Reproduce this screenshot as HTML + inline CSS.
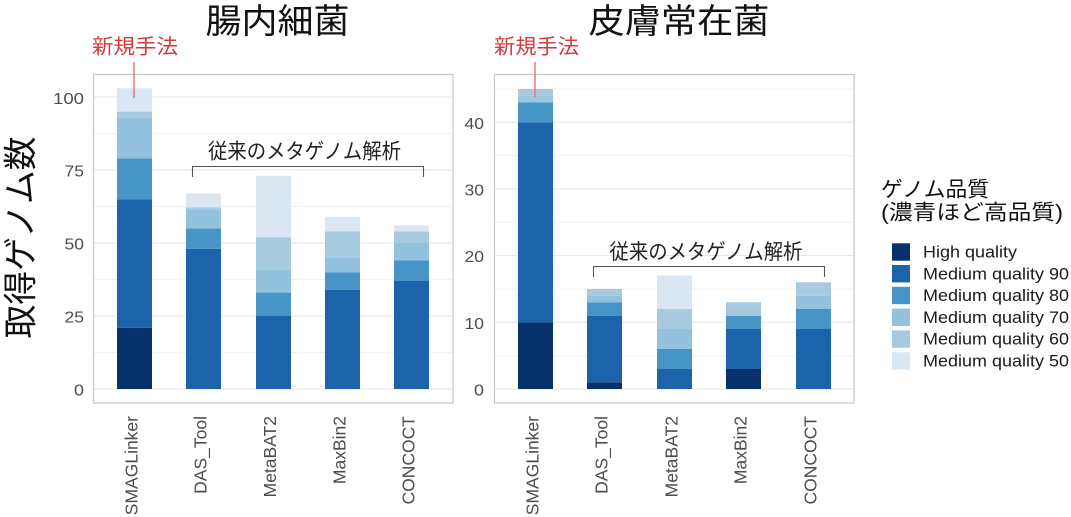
<!DOCTYPE html>
<html>
<head>
<meta charset="utf-8">
<style>
html,body{margin:0;padding:0;background:#fff;}
svg{display:block;}
.lat{font-family:"Liberation Sans",Arial,sans-serif;}
.cjk{font-family:"Liberation Sans","Noto Sans CJK JP",sans-serif;}
</style>
</head>
<body>
<svg width="1071" height="517" viewBox="0 0 1071 517" xmlns="http://www.w3.org/2000/svg">
<rect x="0" y="0" width="1071" height="517" fill="#fff"/>

<!-- ===== LEFT PANEL ===== -->
<g>
  <!-- minor grid -->
  <g stroke="#f1f1f1" stroke-width="1">
    <line x1="93" y1="352.5" x2="453" y2="352.5"/>
    <line x1="93" y1="279.5" x2="453" y2="279.5"/>
    <line x1="93" y1="206.5" x2="453" y2="206.5"/>
    <line x1="93" y1="133.5" x2="453" y2="133.5"/>
  </g>
  <!-- major grid -->
  <g stroke="#e4e4e4" stroke-width="1">
    <line x1="93" y1="389" x2="453" y2="389"/>
    <line x1="93" y1="316" x2="453" y2="316"/>
    <line x1="93" y1="243" x2="453" y2="243"/>
    <line x1="93" y1="170" x2="453" y2="170"/>
    <line x1="93" y1="97" x2="453" y2="97"/>
  </g>
  <!-- bars -->
  <!-- SMAGLinker -->
  <rect x="117" y="327.7" width="35" height="61.3" fill="#08306b"/>
  <rect x="117" y="199.2" width="35" height="128.5" fill="#1c63aa"/>
  <rect x="117" y="158.3" width="35" height="40.9" fill="#4795c7"/>
  <rect x="117" y="117.4" width="35" height="40.9" fill="#92c2de"/>
  <rect x="117" y="111.6" width="35" height="5.8" fill="#a8cadf"/>
  <rect x="117" y="88.2" width="35" height="23.4" fill="#dae7f3"/>
  <!-- DAS_Tool -->
  <rect x="186" y="248.8" width="35" height="140.2" fill="#1c63aa"/>
  <rect x="186" y="228.4" width="35" height="20.4" fill="#4795c7"/>
  <rect x="186" y="209.4" width="35" height="19" fill="#92c2de"/>
  <rect x="186" y="207.5" width="35" height="1.9" fill="#a8cadf"/>
  <rect x="186" y="193.4" width="35" height="14.1" fill="#dae7f3"/>
  <!-- MetaBAT2 -->
  <rect x="256" y="316" width="35" height="73" fill="#1c63aa"/>
  <rect x="256" y="292.6" width="35" height="23.4" fill="#4795c7"/>
  <rect x="256" y="269.3" width="35" height="23.3" fill="#92c2de"/>
  <rect x="256" y="237.2" width="35" height="32.1" fill="#a8cadf"/>
  <rect x="256" y="175.8" width="35" height="61.4" fill="#dae7f3"/>
  <!-- MaxBin2 -->
  <rect x="325" y="289.7" width="35" height="99.3" fill="#1c63aa"/>
  <rect x="325" y="272.2" width="35" height="17.5" fill="#4795c7"/>
  <rect x="325" y="257.6" width="35" height="14.6" fill="#92c2de"/>
  <rect x="325" y="231.3" width="35" height="26.3" fill="#a8cadf"/>
  <rect x="325" y="216.7" width="35" height="14.6" fill="#dae7f3"/>
  <!-- CONCOCT -->
  <rect x="394" y="281" width="35" height="108" fill="#1c63aa"/>
  <rect x="394" y="260.5" width="35" height="20.5" fill="#4795c7"/>
  <rect x="394" y="243" width="35" height="17.5" fill="#92c2de"/>
  <rect x="394" y="231.3" width="35" height="11.7" fill="#a8cadf"/>
  <rect x="394" y="225.5" width="35" height="5.8" fill="#dae7f3"/>
  <!-- border -->
  <rect x="93.5" y="74.5" width="359.5" height="328.5" fill="none" stroke="#c6c6c6" stroke-width="1.2"/>
  <!-- y ticks -->
  <g class="lat" font-size="16" fill="#4d4d4d" text-anchor="end">
    <text x="84" y="395.5" textLength="10" lengthAdjust="spacingAndGlyphs">0</text>
    <text x="84" y="322.5" textLength="19.5" lengthAdjust="spacingAndGlyphs">25</text>
    <text x="84" y="249.5" textLength="19.5" lengthAdjust="spacingAndGlyphs">50</text>
    <text x="84" y="176.5" textLength="19.5" lengthAdjust="spacingAndGlyphs">75</text>
    <text x="84" y="104" textLength="31" lengthAdjust="spacingAndGlyphs">100</text>
  </g>
  <!-- x labels -->
  <g class="lat" font-size="17.5" fill="#4d4d4d" text-anchor="end">
    <text transform="translate(137.5,416) rotate(-90)">SMAGLinker</text>
    <text transform="translate(206.5,416) rotate(-90)">DAS_Tool</text>
    <text transform="translate(276,416) rotate(-90)">MetaBAT2</text>
    <text transform="translate(345.5,416) rotate(-90)">MaxBin2</text>
    <text transform="translate(414.5,416) rotate(-90)">CONCOCT</text>
  </g>
  <!-- annotations -->
  <text class="cjk" x="277.5" y="33" font-size="34" fill="#111" text-anchor="middle" textLength="144" lengthAdjust="spacingAndGlyphs">腸内細菌</text>
  <text class="cjk" x="135" y="53.5" font-size="20.5" fill="#d43a3a" text-anchor="middle" textLength="86" lengthAdjust="spacingAndGlyphs">新規手法</text>
  <line x1="134" y1="62" x2="134" y2="98" stroke="#e37470" stroke-width="1.4"/>
  <text class="cjk" x="304.5" y="158.5" font-size="21" fill="#222" text-anchor="middle" textLength="193" lengthAdjust="spacingAndGlyphs">従来のメタゲノム解析</text>
  <polyline points="192.5,177 192.5,166.5 423.5,166.5 423.5,177" fill="none" stroke="#555" stroke-width="1.1"/>
</g>

<!-- y axis title -->
<text class="cjk" transform="translate(32.5,237.5) rotate(-90)" font-size="34" fill="#111" text-anchor="middle" textLength="202" lengthAdjust="spacingAndGlyphs">取得ゲノム数</text>

<!-- ===== RIGHT PANEL ===== -->
<g>
  <g stroke="#f1f1f1" stroke-width="1">
    <line x1="494" y1="355.7" x2="854" y2="355.7"/>
    <line x1="494" y1="289" x2="854" y2="289"/>
    <line x1="494" y1="222.3" x2="854" y2="222.3"/>
    <line x1="494" y1="155.6" x2="854" y2="155.6"/>
    <line x1="494" y1="89" x2="854" y2="89"/>
  </g>
  <g stroke="#e4e4e4" stroke-width="1">
    <line x1="494" y1="389" x2="854" y2="389"/>
    <line x1="494" y1="322.3" x2="854" y2="322.3"/>
    <line x1="494" y1="255.6" x2="854" y2="255.6"/>
    <line x1="494" y1="189" x2="854" y2="189"/>
    <line x1="494" y1="122.3" x2="854" y2="122.3"/>
  </g>
  <!-- SMAGLinker -->
  <rect x="518" y="322.3" width="35" height="66.7" fill="#08306b"/>
  <rect x="518" y="122.3" width="35" height="200" fill="#1c63aa"/>
  <rect x="518" y="102.3" width="35" height="20" fill="#4795c7"/>
  <rect x="518" y="95.6" width="35" height="6.7" fill="#9dc6df"/>
  <rect x="518" y="89" width="35" height="6.6" fill="#a8cadf"/>
  <!-- DAS_Tool -->
  <rect x="587" y="382.3" width="35" height="6.7" fill="#08306b"/>
  <rect x="587" y="315.7" width="35" height="66.6" fill="#1c63aa"/>
  <rect x="587" y="302.3" width="35" height="13.4" fill="#4795c7"/>
  <rect x="587" y="295.7" width="35" height="6.6" fill="#92c2de"/>
  <rect x="587" y="289" width="35" height="6.7" fill="#a8cadf"/>
  <!-- MetaBAT2 -->
  <rect x="657" y="369" width="35" height="20" fill="#1c63aa"/>
  <rect x="657" y="349" width="35" height="20" fill="#4795c7"/>
  <rect x="657" y="329" width="35" height="20" fill="#92c2de"/>
  <rect x="657" y="309" width="35" height="20" fill="#a8cadf"/>
  <rect x="657" y="275.6" width="35" height="33.4" fill="#dae7f3"/>
  <!-- MaxBin2 -->
  <rect x="726" y="369" width="35" height="20" fill="#08306b"/>
  <rect x="726" y="329" width="35" height="40" fill="#1c63aa"/>
  <rect x="726" y="315.7" width="35" height="13.3" fill="#4795c7"/>
  <rect x="726" y="309" width="35" height="6.7" fill="#a4c8de"/>
  <rect x="726" y="302.3" width="35" height="6.7" fill="#a8cadf"/>
  <!-- CONCOCT -->
  <rect x="796" y="329" width="35" height="60" fill="#1c63aa"/>
  <rect x="796" y="309" width="35" height="20" fill="#4795c7"/>
  <rect x="796" y="295.7" width="35" height="13.3" fill="#92c2de"/>
  <rect x="796" y="282.3" width="35" height="13.4" fill="#a8cadf"/>
  <!-- border -->
  <rect x="494.5" y="74.5" width="359.5" height="328.5" fill="none" stroke="#c6c6c6" stroke-width="1.2"/>
  <!-- y ticks -->
  <g class="lat" font-size="16" fill="#4d4d4d" text-anchor="end">
    <text x="484" y="395.5" textLength="10" lengthAdjust="spacingAndGlyphs">0</text>
    <text x="484" y="328.8" textLength="19.5" lengthAdjust="spacingAndGlyphs">10</text>
    <text x="484" y="262.1" textLength="19.5" lengthAdjust="spacingAndGlyphs">20</text>
    <text x="484" y="195.5" textLength="19.5" lengthAdjust="spacingAndGlyphs">30</text>
    <text x="484" y="128.8" textLength="19.5" lengthAdjust="spacingAndGlyphs">40</text>
  </g>
  <!-- x labels -->
  <g class="lat" font-size="17.5" fill="#4d4d4d" text-anchor="end">
    <text transform="translate(538.5,416) rotate(-90)">SMAGLinker</text>
    <text transform="translate(607.5,416) rotate(-90)">DAS_Tool</text>
    <text transform="translate(677.5,416) rotate(-90)">MetaBAT2</text>
    <text transform="translate(746.5,416) rotate(-90)">MaxBin2</text>
    <text transform="translate(816.5,416) rotate(-90)">CONCOCT</text>
  </g>
  <text class="cjk" x="679" y="33" font-size="34" fill="#111" text-anchor="middle" textLength="181" lengthAdjust="spacingAndGlyphs">皮膚常在菌</text>
  <text class="cjk" x="536.5" y="53.5" font-size="20.5" fill="#d43a3a" text-anchor="middle" textLength="85" lengthAdjust="spacingAndGlyphs">新規手法</text>
  <line x1="535" y1="62" x2="535" y2="97" stroke="#e37470" stroke-width="1.4"/>
  <text class="cjk" x="706" y="259" font-size="21" fill="#222" text-anchor="middle" textLength="193" lengthAdjust="spacingAndGlyphs">従来のメタゲノム解析</text>
  <polyline points="593.5,277 593.5,266.5 824.5,266.5 824.5,277" fill="none" stroke="#555" stroke-width="1.1"/>
</g>

<!-- ===== LEGEND ===== -->
<g>
  <text class="cjk" x="881" y="196.5" font-size="21" fill="#111" textLength="108" lengthAdjust="spacingAndGlyphs">ゲノム品質</text>
  <text class="cjk" x="881" y="219.5" font-size="21" fill="#111" textLength="182" lengthAdjust="spacingAndGlyphs">(濃青ほど高品質)</text>
  <rect x="892" y="243.3" width="18" height="17.4" fill="#08306b"/>
  <rect x="892" y="265" width="18" height="17.4" fill="#1c63aa"/>
  <rect x="892" y="286.8" width="18" height="17.4" fill="#4795c7"/>
  <rect x="892" y="308.6" width="18" height="17.4" fill="#92c2de"/>
  <rect x="892" y="330.4" width="18" height="17.4" fill="#a8cadf"/>
  <rect x="892" y="352.2" width="18" height="17.4" fill="#dae7f3"/>
  <g class="lat" font-size="17" fill="#1a1a1a">
    <text x="923" y="257.5" textLength="94" lengthAdjust="spacingAndGlyphs">High quality</text>
    <text x="923" y="279.3" textLength="146" lengthAdjust="spacingAndGlyphs">Medium quality 90</text>
    <text x="923" y="301.1" textLength="146" lengthAdjust="spacingAndGlyphs">Medium quality 80</text>
    <text x="923" y="322.9" textLength="146" lengthAdjust="spacingAndGlyphs">Medium quality 70</text>
    <text x="923" y="344.7" textLength="146" lengthAdjust="spacingAndGlyphs">Medium quality 60</text>
    <text x="923" y="366.5" textLength="146" lengthAdjust="spacingAndGlyphs">Medium quality 50</text>
  </g>
</g>
</svg>
</body>
</html>
